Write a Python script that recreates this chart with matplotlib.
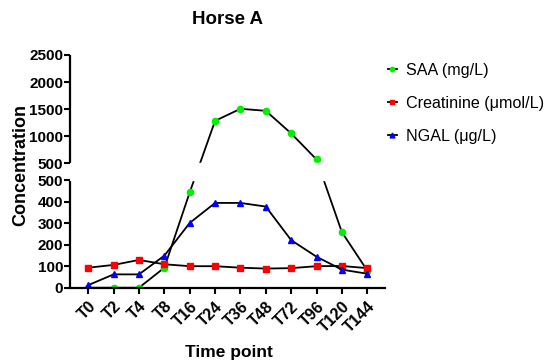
import numpy as np
import matplotlib
matplotlib.use("Agg")
import matplotlib.pyplot as plt

plt.rcParams['font.family'] = ['Liberation Sans', 'DejaVu Sans']

# data
timepoints = ['T0', 'T2', 'T4', 'T8', 'T16', 'T24', 'T36', 'T48', 'T72', 'T96', 'T120', 'T144']
saa = [0, 0, 0, 93, 443, 1286, 1508, 1471, 1054, 574, 258, 80]
creatinine = [93, 106, 129, 109, 100, 100, 93, 89, 91, 100, 101, 91]
ngal = [12, 62, 62, 149, 301, 394, 394, 377, 221, 144, 84, 65]

# broken y axis: 0-500 below, 500-2500 above, small gap between
LOW_H = 107.4
GAP = 16.6
HIGH_H = 108.3
BREAK = 500.0


def forward(y):
    y = np.asarray(y, dtype=float)
    return np.where(y <= BREAK, y * LOW_H / BREAK,
                    LOW_H + GAP + (y - BREAK) * HIGH_H / 2000.0)


def inverse(t):
    t = np.asarray(t, dtype=float)
    return np.where(t <= LOW_H, t * BREAK / LOW_H,
                    BREAK + (t - LOW_H - GAP) * 2000.0 / HIGH_H)


fig = plt.figure(figsize=(5.52, 3.62), dpi=100)
ax = fig.add_axes([0.1268, 0.2052, 0.5707, 0.6429])
ax.set_yscale('function', functions=(forward, inverse))

x = np.arange(len(timepoints))
l1, = ax.plot(x, saa, color='black', lw=1.3, marker='o', ms=4.5,
              mfc='#00f000', mec='#00f000', label='SAA (mg/L)')
l2, = ax.plot(x, creatinine, color='black', lw=1.3, marker='s', ms=4.8,
              mfc='#ff0000', mec='#ff0000', label='Creatinine (\u03bcmol/L)')
l3, = ax.plot(x, ngal, color='black', lw=1.3, marker='^', ms=5,
              mfc='#0000ff', mec='#0000ff', label='NGAL (\u03bcg/L)')

ax.set_xlim(-0.72, 11.7)
ax.set_ylim(0, 2500)

eps = 1e-6
yt = [0, 100, 200, 300, 400, 500, 500 + eps, 1000, 1500, 2000, 2500]
ax.set_yticks(yt)
ax.set_yticklabels(['0', '100', '200', '300', '400', '500', '500',
                    '1000', '1500', '2000', '2500'])
ax.minorticks_off()

# blank the break
ax.axhspan(BREAK, BREAK + eps, color='white', zorder=2.2)

# spines
for s in ['top', 'right', 'left']:
    ax.spines[s].set_visible(False)
ax.spines['bottom'].set_linewidth(1.6)
ytr = ax.get_yaxis_transform()
ax.plot([0, 0], [0, BREAK], color='black', lw=1.6, transform=ytr,
        clip_on=False, solid_capstyle='butt')
ax.plot([0, 0], [BREAK + eps, 2500], color='black', lw=1.6, transform=ytr,
        clip_on=False, solid_capstyle='butt')

ax.set_xticks(x)
ax.set_xticklabels(timepoints, rotation=45, ha='right', va='top',
                   rotation_mode='anchor')
ax.tick_params(axis='both', direction='out', length=4, width=1.5,
               labelsize=11)
ax.tick_params(axis='y', pad=1)
ax.tick_params(axis='x', labelsize=11.5, pad=4)
for lab in ax.get_xticklabels() + ax.get_yticklabels():
    lab.set_fontweight('bold')

fig.text(228 / 552, 1 - 20 / 362, 'Horse A', ha='center', va='center',
         fontsize=13.5, fontweight='bold')
fig.text(21 / 552, 1 - 165 / 362, 'Concentration', ha='center', va='center',
         rotation=90, fontsize=13, fontweight='bold')
fig.text(229 / 552, 1 - 352 / 362, 'Time point', ha='center', va='center',
         fontsize=12.5, fontweight='bold')

fig.legend(handles=[l1, l2, l3], loc='upper left',
           bbox_to_anchor=(373 / 552, 1 - 48 / 362), frameon=False,
           fontsize=11.6, handlelength=0.6, handletextpad=0.55,
           labelspacing=1.12, markerscale=0.7)

fig.savefig('out.png', dpi=100)
